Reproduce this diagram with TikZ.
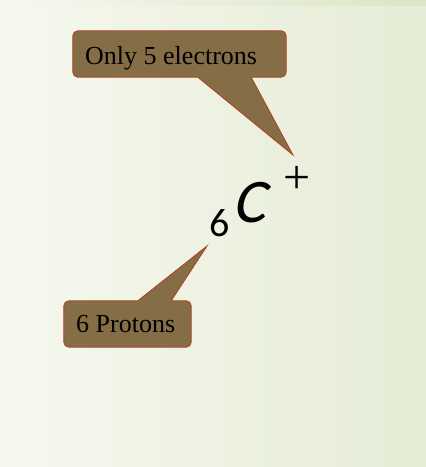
\documentclass[tikz,border=0pt]{standalone}
\usepackage{fontspec}
\setmainfont{Liberation Serif}
\newfontfamily\formulafont{Carlito}
\newfontfamily\carbonfont{Carlito}[FakeSlant=0.22]
\usetikzlibrary{calc}
\definecolor{slideleft}{RGB}{246,248,239}
\definecolor{slideright}{RGB}{229,236,213}
\definecolor{slidetop}{RGB}{220,229,198}
\definecolor{calloutfill}{RGB}{133,109,70}
\definecolor{calloutline}{RGB}{180,60,35}

\begin{document}
\begin{tikzpicture}[x=1pt, y=1pt,
    boxarea/.style={inner sep=0pt, minimum height=46pt},
    label/.style={anchor=base west, inner sep=0pt, font=\fontsize{26}{30}\selectfont},
    callout/.style={fill=calloutfill, draw=calloutline, line width=0.8pt},
    formula/.style={inner sep=0pt, font=\formulafont\fontsize{62}{70}\selectfont}
  ]
    % slide background
    \shade[left color=slideleft, right color=slideright] (0,0) rectangle (426,467);
    \shade[left color=slideleft, right color=slidetop] (0,461) rectangle (426,467);
    \useasboundingbox (0,0) rectangle (426,467);

    % callout: electrons
    \node[boxarea, minimum width=213pt] (elecbox) at (179.5,413) {};
    \coordinate (electip) at (293,312);
    \draw[callout] ([xshift=5pt]elecbox.north west) -- ([xshift=-5pt]elecbox.north east)
      arc[start angle=90, end angle=0, radius=5pt] -- ([yshift=5pt]elecbox.south east)
      arc[start angle=0, end angle=-90, radius=5pt] -- ([xshift=-35pt]elecbox.south east)
      -- (electip) -- ([xshift=125pt]elecbox.south west) -- ([xshift=5pt]elecbox.south west)
      arc[start angle=270, end angle=180, radius=5pt] -- ([yshift=-5pt]elecbox.north west)
      arc[start angle=180, end angle=90, radius=5pt] -- cycle;
    \node[label] (electext) at (85,402) {Only 5 electrons};

    % callout: protons
    \node[boxarea, minimum width=127pt] (protbox) at (127.5,143) {};
    \coordinate (prottip) at (207,221);
    \draw[callout] ([xshift=5pt]protbox.north west) -- ([xshift=74pt]protbox.north west)
      -- (prottip) -- ([xshift=-20pt]protbox.north east) -- ([xshift=-5pt]protbox.north east)
      arc[start angle=90, end angle=0, radius=5pt] -- ([yshift=5pt]protbox.south east)
      arc[start angle=0, end angle=-90, radius=5pt] -- ([xshift=5pt]protbox.south west)
      arc[start angle=270, end angle=180, radius=5pt] -- ([yshift=-5pt]protbox.north west)
      arc[start angle=180, end angle=90, radius=5pt] -- cycle;
    \node[label] (prottext) at (76,134) {6 Protons};

    % symbol
    \node[formula, anchor=base west, font=\formulafont\fontsize{40}{46}\selectfont] (atomnum) at (209,230) {6};
    \node[formula, anchor=base west, font=\carbonfont\fontsize{62}{70}\selectfont] (carbon) at (232,244) {C};
    \node[formula, anchor=base, font=\fontsize{48}{52}\selectfont] (charge) at (297,273) {+};
\end{tikzpicture}
\end{document}
